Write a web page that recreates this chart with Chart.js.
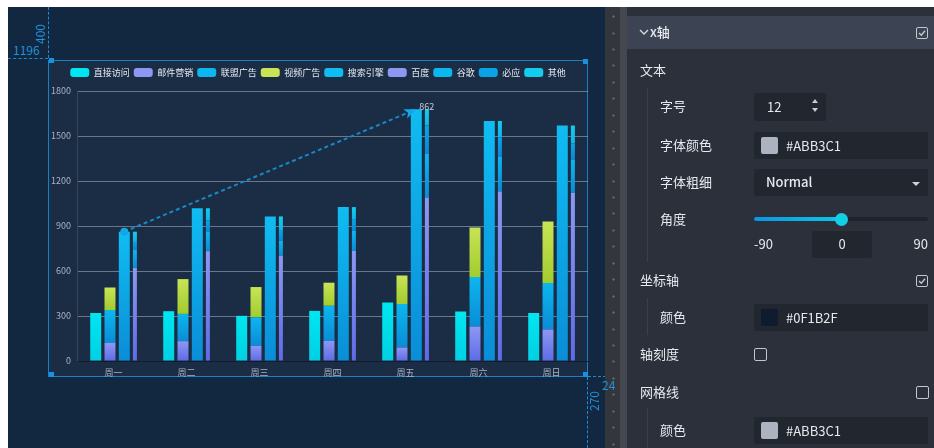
<!DOCTYPE html>
<html><head><meta charset="utf-8">
<script src="https://cdn.jsdelivr.net/npm/chart.js@4.4.0/dist/chart.umd.min.js"></script>
<style>
html,body{margin:0;padding:0;background:#fff;width:934px;height:448px;overflow:hidden;font-family:"Noto Sans CJK SC",sans-serif;}
.a{position:absolute;}
.t{position:absolute;font-size:13px;line-height:20px;height:20px;color:#e6e9ee;white-space:nowrap;}
.g{position:absolute;font-size:12px;line-height:14px;color:#2390da;white-space:nowrap;}
.box{position:absolute;background:#22262e;border-radius:2px;}
.sw{position:absolute;width:17px;height:17px;border-radius:2px;}
.cb{position:absolute;width:12px;height:12px;border:1.5px solid #c3c7cd;border-radius:2px;box-sizing:border-box;}
.vl{position:absolute;width:1px;background:#3b4049;}
.h{position:absolute;width:5px;height:5px;background:#1792e0;}
</style></head>
<body>
<div class="a" style="left:8px;top:7px;width:597px;height:441px;background:#122840"></div>
<!-- guides top-left -->
<div class="a" style="left:8px;top:58px;width:40px;height:0;border-top:1px dashed #1f8ad4"></div>
<div class="a" style="left:48px;top:7px;width:0;height:51px;border-left:1px dashed #1f8ad4"></div>
<div class="g" style="left:13px;top:43px">1196</div>
<div class="g" style="left:30px;top:27px;transform:rotate(-90deg);transform-origin:center">400</div>
<!-- chart frame -->
<div class="a" style="left:48px;top:60px;width:540px;height:317px;box-sizing:border-box;border:1px solid #1b7fc4;background:#1b2d45"></div>
<div class="h" style="left:49px;top:58px"></div>
<div class="h" style="left:583px;top:59px"></div>
<div class="h" style="left:49px;top:372px"></div>
<div class="h" style="left:583px;top:372px"></div>
<canvas id="c" class="a" width="540" height="318" style="left:48px;top:60px;width:540px;height:318px"></canvas>
<!-- guides bottom-right -->
<div class="a" style="left:588px;top:376px;width:18px;height:0;border-top:1px dashed #1f8ad4"></div>
<div class="a" style="left:587px;top:377px;width:0;height:71px;border-left:1px dashed #1f8ad4"></div>
<!-- ruler strip -->
<div class="a" style="left:605px;top:7px;width:15px;height:441px;background:#33363c"></div>
<div class="a" style="left:620px;top:7px;width:7px;height:441px;background:#45484e"></div>
<div id="marks"></div>
<div class="g" style="left:602px;top:378px">24</div>
<div class="g" style="left:584px;top:394px;transform:rotate(-90deg);transform-origin:center">270</div>
<!-- panel -->
<div class="a" style="left:627px;top:7px;width:307px;height:441px;background:#2c303a"></div>
<div class="a" style="left:627px;top:16px;width:307px;height:33px;background:#3c4352"></div>
<svg class="a" style="left:639px;top:28px" width="10" height="8"><polyline points="1,2 5,6 9,2" fill="none" stroke="#d8dce2" stroke-width="1.3"/></svg>
<div class="t" style="left:650px;top:22px;font-weight:500">x轴</div>
<div class="cb" style="left:916px;top:27px"></div>
<svg class="a" style="left:916px;top:27px" width="12" height="12"><polyline points="3,6 5.3,8.3 9,3.8" fill="none" stroke="#c3c7cd" stroke-width="1.4"/></svg>

<div class="t" style="left:640px;top:60px">文本</div>
<div class="vl" style="left:647px;top:88px;height:174px"></div>
<div class="t" style="left:660px;top:96px">字号</div>
<div class="box" style="left:754px;top:93px;width:72px;height:28px"></div>
<div class="t" style="left:767px;top:97px">12</div>
<div class="a" style="left:811.5px;top:99px;width:0;height:0;border-left:3.5px solid transparent;border-right:3.5px solid transparent;border-bottom:4px solid #c9ccd2"></div>
<div class="a" style="left:811.5px;top:108px;width:0;height:0;border-left:3.5px solid transparent;border-right:3.5px solid transparent;border-top:4px solid #c9ccd2"></div>

<div class="t" style="left:660px;top:135px">字体颜色</div>
<div class="box" style="left:754px;top:132px;width:174px;height:27px"></div>
<div class="sw" style="left:761px;top:137px;background:#ABB3C1"></div>
<div class="t" style="left:786px;top:136px">#ABB3C1</div>

<div class="t" style="left:660px;top:172px">字体粗细</div>
<div class="box" style="left:754px;top:169px;width:174px;height:27px"></div>
<div class="t" style="left:766px;top:172px;font-weight:500">Normal</div>
<div class="a" style="left:912px;top:182px;width:0;height:0;border-left:4px solid transparent;border-right:4px solid transparent;border-top:4px solid #d0d3d8"></div>

<div class="t" style="left:660px;top:209px">角度</div>
<div class="a" style="left:754px;top:217px;width:174px;height:4px;border-radius:2px;background:#1f232b"></div>
<div class="a" style="left:754px;top:217px;width:88px;height:4px;border-radius:2px;background:linear-gradient(90deg,#0b96e4,#10c6e6)"></div>
<div class="a" style="left:835px;top:212.5px;width:13px;height:13px;border-radius:50%;background:#12cfe6"></div>
<div class="t" style="left:754px;top:234px">-90</div>
<div class="box" style="left:812px;top:231px;width:60px;height:27px"></div>
<div class="t" style="left:812px;top:234px;width:60px;text-align:center">0</div>
<div class="t" style="left:888px;top:234px;width:40px;text-align:right">90</div>

<div class="t" style="left:640px;top:270px">坐标轴</div>
<div class="cb" style="left:916px;top:275px"></div>
<svg class="a" style="left:916px;top:275px" width="12" height="12"><polyline points="3,6 5.3,8.3 9,3.8" fill="none" stroke="#c3c7cd" stroke-width="1.4"/></svg>
<div class="vl" style="left:647px;top:298px;height:37px"></div>
<div class="t" style="left:660px;top:307px">颜色</div>
<div class="box" style="left:754px;top:304px;width:174px;height:27px"></div>
<div class="sw" style="left:761px;top:309px;background:#0F1B2F"></div>
<div class="t" style="left:786px;top:308px">#0F1B2F</div>

<div class="t" style="left:640px;top:344px">轴刻度</div>
<div class="cb" style="left:754px;top:348px;width:13px;height:13px"></div>

<div class="t" style="left:640px;top:382px">网格线</div>
<div class="cb" style="left:916px;top:386px;width:13px;height:13px"></div>
<div class="vl" style="left:647px;top:408px;height:40px"></div>
<div class="t" style="left:660px;top:420px">颜色</div>
<div class="box" style="left:754px;top:417px;width:174px;height:27px"></div>
<div class="sw" style="left:761px;top:422px;background:#ABB3C1"></div>
<div class="t" style="left:786px;top:421px">#ABB3C1</div>

<script>
// ---- data ----
const categories = ['周一','周二','周三','周四','周五','周六','周日'];
const directVisit = [320, 332, 301, 334, 390, 330, 320];
const emailMarketing = [120, 132, 101, 134, 90, 230, 210];
const allianceAds = [220, 182, 191, 234, 290, 330, 310];
const videoAds = [150, 232, 201, 154, 190, 330, 410];
const searchEngine = [862, 1018, 964, 1026, 1679, 1600, 1570];
const baidu = [620, 732, 701, 734, 1090, 1130, 1120];
const google = [120, 132, 101, 134, 290, 230, 220];
const bing = [60, 72, 71, 74, 190, 130, 110];
const others = [62, 82, 91, 84, 109, 110, 120];
const yTicks = [0, 300, 600, 900, 1200, 1500, 1800];

// ruler marks (decoration)
const marks = document.getElementById('marks');
for (let y = 16; y < 448; y += 16.45) {
  const d = document.createElement('div');
  d.className = 'a';
  d.style.cssText = `left:611.5px;top:${y.toFixed(1)}px;width:3px;height:1px;background:#5c6067`;
  const e = document.createElement('div');
  e.className = 'a';
  e.style.cssText = `left:612.5px;top:${(y-1).toFixed(1)}px;width:1px;height:3px;background:#5c6067`;
  marks.appendChild(d); marks.appendChild(e);
}

function cum(...arrs) {
  return categories.map((_, i) => arrs.reduce((s, a) => s + a[i], 0));
}
const zero = categories.map(() => 0);

function grad(top, bottom, flat, vals, base) {
  return (ctx) => {
    if (ctx.type !== 'data') return flat;
    const y = ctx.chart.scales.y;
    if (!y) return flat;
    const i = ctx.dataIndex;
    const y0 = y.getPixelForValue(base[i] + vals[i]);
    const y1 = y.getPixelForValue(base[i]);
    if (!isFinite(y0) || !isFinite(y1) || Math.abs(y1 - y0) < 0.5) return top;
    const g = ctx.chart.ctx.createLinearGradient(0, y0, 0, y1);
    g.addColorStop(0, top);
    g.addColorStop(1, bottom);
    return g;
  };
}

// one hidden category axis per bar group, so each group sits at its own offset in the band
const grpDirect = {xAxisID: 'x',  categoryPercentage: 0.6502, barPercentage: 4, maxBarThickness: 11, borderWidth: 0};
const grpAds    = {xAxisID: 'xa', categoryPercentage: 0.3836, barPercentage: 4, maxBarThickness: 11, borderWidth: 0};
const grpSearch = {xAxisID: 'xs', categoryPercentage: 1.1836, barPercentage: 4, maxBarThickness: 11, borderWidth: 0};
const grpThin   = {xAxisID: 'xt', categoryPercentage: 0.7817, barPercentage: 4, maxBarThickness: 4, borderWidth: 0};

const C = {
  cyan: ['#00e6f0', '#00d0e4', '#0cd8e8'],
  purple: ['#8d98f2', '#5e6be6', '#7a86ee'],
  blue: ['#0cb6ef', '#0a8cd6', '#0aa2e2'],
  lime: ['#c8e455', '#a2cc2e', '#b5d83c'],
  search: ['#10bcf2', '#0a8dd7', '#0aa2e2'],
  bing: ['#0aa4e6', '#0a88d2', '#0a98dc'],
  other: ['#12cdee', '#0fb4e6', '#0cd8e8']
};
const mk = (label, data, stack, col, base, grp) =>
  Object.assign({label, data, stack, backgroundColor: grad(col[0], col[1], col[2], data, base)}, grp);

const datasets = [
  mk('直接访问', directVisit, 's0', C.cyan, zero, grpDirect),
  mk('邮件营销', emailMarketing, 'ad', C.purple, zero, grpAds),
  mk('联盟广告', allianceAds, 'ad', C.blue, cum(emailMarketing), grpAds),
  mk('视频广告', videoAds, 'ad', C.lime, cum(emailMarketing, allianceAds), grpAds),
  mk('搜索引擎', searchEngine, 'se', C.search, zero, grpSearch),
  mk('百度', baidu, 'thin', C.purple, zero, grpThin),
  mk('谷歌', google, 'thin', C.blue, cum(baidu), grpThin),
  mk('必应', bing, 'thin', C.bing, cum(baidu, google), grpThin),
  mk('其他', others, 'thin', C.other, cum(baidu, google, bing), grpThin)
];

const FONT = 'Noto Sans CJK SC';

const markLine = {
  id: 'markLine',
  afterDatasetsDraw(chart) {
    const di = chart.data.datasets.findIndex(d => d.label === '搜索引擎');
    const meta = chart.getDatasetMeta(di);
    const y = chart.scales.y;
    const minV = Math.min(...searchEngine), maxV = Math.max(...searchEngine);
    const iMin = searchEngine.indexOf(minV), iMax = searchEngine.indexOf(maxV);
    const p1 = {x: meta.data[iMin].x, y: y.getPixelForValue(minV)};
    const p2 = {x: meta.data[iMax].x, y: y.getPixelForValue(maxV)};
    const ang = Math.atan2(p2.y - p1.y, p2.x - p1.x);
    const c = chart.ctx;
    c.save();
    c.strokeStyle = '#1789c6';
    c.lineWidth = 2;
    c.setLineDash([4, 3]);
    c.beginPath();
    c.moveTo(p1.x, p1.y);
    c.lineTo(p2.x - Math.cos(ang) * 9, p2.y - Math.sin(ang) * 9);
    c.stroke();
    c.setLineDash([]);
    c.fillStyle = '#12a8e8';
    c.beginPath();
    c.arc(p1.x, p1.y, 4, 0, Math.PI * 2);
    c.fill();
    c.save();
    c.translate(p2.x, p2.y);
    c.rotate(ang);
    c.beginPath();
    c.moveTo(0, 0);
    c.lineTo(-12, -5);
    c.lineTo(-9, 0);
    c.lineTo(-12, 5);
    c.closePath();
    c.fill();
    c.restore();
    c.fillStyle = '#c4cbd6';
    c.font = `9px "${FONT}"`;
    c.textAlign = 'left';
    c.textBaseline = 'middle';
    c.fillText(String(minV), p2.x + 3, p2.y - 3);
    c.restore();
  }
};

const hiddenCat = {type: 'category', display: false, offset: true};

new Chart(document.getElementById('c'), {
  type: 'bar',
  data: {labels: categories, datasets},
  plugins: [markLine],
  options: {
    responsive: false,
    animation: false,
    devicePixelRatio: 1,
    layout: {padding: {top: 4, left: 0, right: 0, bottom: 0}},
    plugins: {
      tooltip: {enabled: false},
      legend: {
        position: 'top',
        labels: {
          boxWidth: 19, boxHeight: 9, padding: 4,
          useBorderRadius: true, borderRadius: 3,
          color: '#e5eaf1',
          font: {family: FONT, size: 9}
        }
      },
      subtitle: {display: true, text: '', position: 'top', weight: 1, padding: {top: 3, bottom: 0}, font: {size: 1, lineHeight: 1}}
    },
    scales: {
      x: {
        type: 'category',
        offset: true,
        grid: {display: false, drawTicks: false},
        border: {display: true, color: '#0F1B2F', width: 1},
        ticks: {color: '#abb3c1', font: {family: FONT, size: 9}, padding: 6, maxRotation: 0},
        afterFit: s => { s.height = 17; }
      },
      xa: hiddenCat,
      xs: hiddenCat,
      xt: hiddenCat,
      y: {
        stacked: true,
        min: 0, max: 1800,
        afterBuildTicks: s => { s.ticks = yTicks.map(v => ({value: v})); },
        grid: {
          drawTicks: false,
          color: c => (c.tick && c.tick.value === 0) ? 'rgba(0,0,0,0)' : 'rgba(171,179,193,0.55)'
        },
        border: {display: true, color: 'rgba(171,179,193,0.18)'},
        ticks: {color: '#abb3c1', font: {family: FONT, size: 9}, padding: 6, callback: v => String(v)},
        afterFit: s => { s.width = 29; }
      }
    }
  }
});
</script>
</body></html>
